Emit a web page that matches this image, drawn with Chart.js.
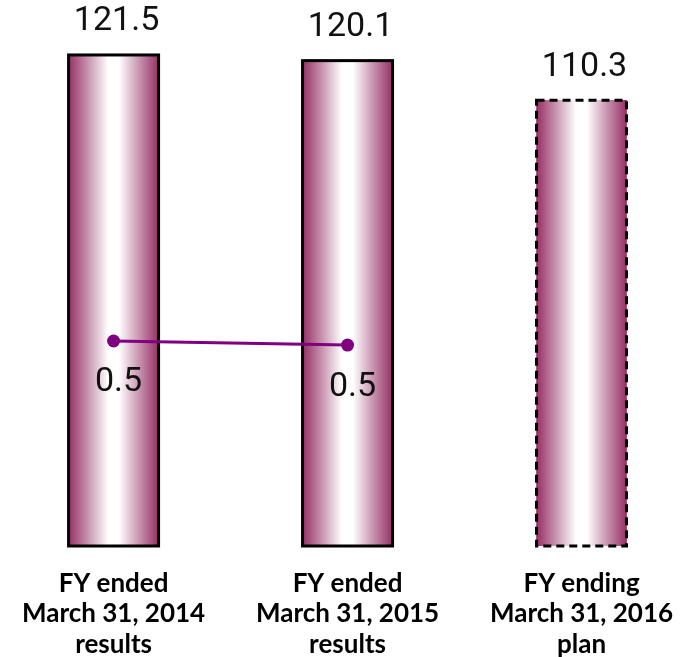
<!DOCTYPE html>
<html>
<head>
<meta charset="utf-8">
<script src="https://cdn.jsdelivr.net/npm/chart.js@4"></script>
<style>
    html, body { margin: 0; padding: 0; background: #fff; }
    #wrap { width: 695px; height: 657px; }
</style>
</head>
<body>
<div id="wrap"><canvas id="chart" width="695" height="657"></canvas></div>
<script>
    // fiscal years: two results and one plan
    const categories = [
        ['FY ended', 'March 31, 2014', 'results'],
        ['FY ended', 'March 31, 2015', 'results'],
        ['FY ending', 'March 31, 2016', 'plan']
    ];
    const barValues = [121.5, 120.1, 110.3];
    const isPlan = [false, false, true];
    const lineValues = [0.505, 0.495];

    const BAR_WIDTH = 90;
    const MAROON = 'rgb(150, 48, 100)';

    const barData = barValues.map((v, i) => ({ x: i, y: v }));
    const lineData = lineValues.map((v, i) => ({ x: i, y: v }));

    // horizontal maroon-white-maroon gradient per bar, set once bars are laid out
    const gradientPlugin = {
        id: 'barGradient',
        beforeDatasetsDraw(chart) {
            const ctx = chart.ctx;
            chart.getDatasetMeta(0).data.forEach(el => {
                if (!isFinite(el.x)) return;
                const g = ctx.createLinearGradient(el.x - el.width / 2, 0, el.x + el.width / 2, 0);
                g.addColorStop(0, MAROON);
                g.addColorStop(0.2, 'rgb(196, 140, 170)');
                g.addColorStop(0.44, '#ffffff');
                g.addColorStop(0.56, '#ffffff');
                g.addColorStop(0.8, 'rgb(196, 140, 170)');
                g.addColorStop(1, MAROON);
                el.options = Object.assign({}, el.options, { backgroundColor: g });
            });
        }
    };

    // borders (dashed for the plan bar) and value labels
    const labelPlugin = {
        id: 'labels',
        afterDatasetDraw(chart, args) {
            const ctx = chart.ctx;
            if (args.index === 0) {
                args.meta.data.forEach((el, i) => {
                    const left = el.x - el.width / 2;
                    ctx.save();
                    ctx.strokeStyle = '#000';
                    ctx.lineWidth = 3;
                    if (isPlan[i]) ctx.setLineDash([8, 5]);
                    ctx.strokeRect(left, el.y, el.width, el.base - el.y);
                    ctx.restore();
                });
            }
        },
        afterDatasetsDraw(chart) {
            const ctx = chart.ctx;
            ctx.save();
            ctx.fillStyle = '#111';
            ctx.font = '34px Roboto, "Liberation Sans", sans-serif';
            ctx.textAlign = 'center';
            ctx.textBaseline = 'middle';
            chart.getDatasetMeta(0).data.forEach((el, i) => {
                ctx.fillText(barValues[i].toFixed(1), el.x + 3, el.y - 33);
            });
            chart.getDatasetMeta(1).data.forEach((el, i) => {
                ctx.fillText(lineValues[i].toFixed(1), el.x + 5, el.y + 42);
            });
            ctx.restore();
        }
    };

    new Chart(document.getElementById('chart').getContext('2d'), {
        type: 'bar',
        data: {
            datasets: [{
                type: 'bar',
                data: barData,
                backgroundColor: MAROON,
                borderWidth: 0,
                barThickness: BAR_WIDTH,
                yAxisID: 'y',
                order: 1
            }, {
                type: 'line',
                data: lineData,
                borderColor: '#800080',
                backgroundColor: '#800080',
                borderWidth: 3,
                pointRadius: 6.5,
                pointBackgroundColor: '#800080',
                pointBorderWidth: 0,
                yAxisID: 'y2',
                order: 0
            }]
        },
        options: {
            responsive: false,
            animation: false,
            layout: { padding: 0, autoPadding: false },
            plugins: {
                legend: { display: false },
                tooltip: { enabled: false }
            },
            scales: {
                x: {
                    type: 'linear',
                    offset: false,
                    min: -0.47,
                    max: 2.485,
                    grid: { display: false, drawTicks: false, offset: false },
                    border: { display: false },
                    afterBuildTicks: scale => {
                        scale.ticks = categories.map((c, i) => ({ value: i }));
                    },
                    afterFit: scale => { scale.height = 111; },
                    ticks: {
                        autoSkip: false,
                        maxRotation: 0,
                        padding: 22,
                        color: '#000',
                        font: { family: 'Lato, "Open Sans", sans-serif', size: 26, weight: 'bold', lineHeight: 1.18 },
                        callback: (v) => categories[Math.round(v)] || ''
                    }
                },
                y: {
                    display: false,
                    min: 0,
                    max: 135.1
                },
                y2: {
                    display: false,
                    min: 0,
                    max: 1.345
                }
            }
        },
        plugins: [gradientPlugin, labelPlugin]
    });
</script>
</body>
</html>
